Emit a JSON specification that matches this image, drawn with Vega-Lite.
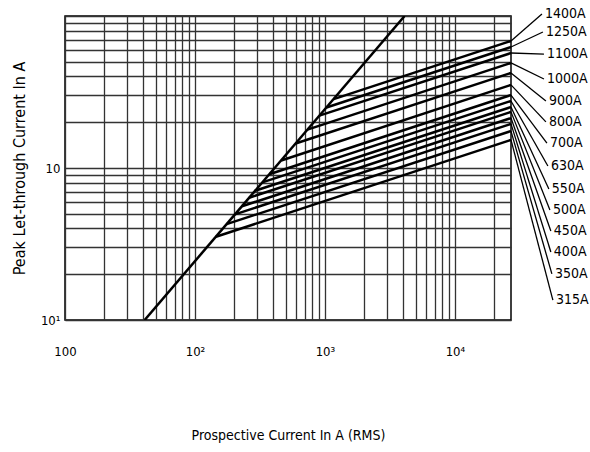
{
  "$schema": "https://vega.github.io/schema/vega-lite/v6.json",
  "autosize": "none",
  "width": 446,
  "height": 304,
  "padding": {"left": 65, "top": 16, "right": 79, "bottom": 132},
  "background": "white",
  "config": {
    "view": {"stroke": "#000", "strokeWidth": 1.5},
    "font": "DejaVu Sans Condensed, DejaVu Sans, sans-serif"
  },
  "datasets": {
    "diag": [
      {"x": 4.1, "y": 1},
      {"x": 410, "y": 100}
    ],
    "curves": [
      {"fuse": "1400A", "x": 116.6, "y": 28.4}, {"fuse": "1400A", "x": 2700, "y": 68.5},
      {"fuse": "1250A", "x": 102.6, "y": 25.0}, {"fuse": "1250A", "x": 2700, "y": 62.5},
      {"fuse": "1100A", "x": 90.6, "y": 22.1}, {"fuse": "1100A", "x": 2700, "y": 57.1},
      {"fuse": "1000A", "x": 73.3, "y": 17.9}, {"fuse": "1000A", "x": 2700, "y": 49.1},
      {"fuse": "900A", "x": 59.4, "y": 14.5}, {"fuse": "900A", "x": 2700, "y": 42.2},
      {"fuse": "800A", "x": 46.1, "y": 11.2}, {"fuse": "800A", "x": 2700, "y": 35.2},
      {"fuse": "700A", "x": 37.3, "y": 9.1}, {"fuse": "700A", "x": 2700, "y": 30.2},
      {"fuse": "630A", "x": 33.0, "y": 8.05}, {"fuse": "630A", "x": 2700, "y": 27.6},
      {"fuse": "550A", "x": 29.0, "y": 7.08}, {"fuse": "550A", "x": 2700, "y": 25.2},
      {"fuse": "500A", "x": 26.1, "y": 6.37}, {"fuse": "500A", "x": 2700, "y": 23.4},
      {"fuse": "450A", "x": 23.0, "y": 5.6}, {"fuse": "450A", "x": 2700, "y": 21.3},
      {"fuse": "400A", "x": 20.3, "y": 4.95}, {"fuse": "400A", "x": 2700, "y": 19.5},
      {"fuse": "350A", "x": 17.5, "y": 4.27}, {"fuse": "350A", "x": 2700, "y": 17.5},
      {"fuse": "315A", "x": 14.5, "y": 3.53}, {"fuse": "315A", "x": 2700, "y": 15.3}
    ],
    "labels": [
      {"fuse": "1400A", "x": 2700, "y": 68.5, "lx": 4670, "ly": 103.1},
      {"fuse": "1250A", "x": 2700, "y": 62.5, "lx": 4750, "ly": 78.5},
      {"fuse": "1100A", "x": 2700, "y": 57.1, "lx": 4840, "ly": 56.2},
      {"fuse": "1000A", "x": 2700, "y": 49.1, "lx": 4840, "ly": 38.5},
      {"fuse": "900A", "x": 2700, "y": 42.2, "lx": 5010, "ly": 27.6},
      {"fuse": "800A", "x": 2700, "y": 35.2, "lx": 5010, "ly": 20.1},
      {"fuse": "700A", "x": 2700, "y": 30.2, "lx": 5100, "ly": 14.6},
      {"fuse": "630A", "x": 2700, "y": 27.6, "lx": 5190, "ly": 10.3},
      {"fuse": "550A", "x": 2700, "y": 25.2, "lx": 5280, "ly": 7.27},
      {"fuse": "500A", "x": 2700, "y": 23.4, "lx": 5380, "ly": 5.29},
      {"fuse": "450A", "x": 2700, "y": 21.3, "lx": 5470, "ly": 3.85},
      {"fuse": "400A", "x": 2700, "y": 19.5, "lx": 5470, "ly": 2.80},
      {"fuse": "350A", "x": 2700, "y": 17.5, "lx": 5570, "ly": 2.01},
      {"fuse": "315A", "x": 2700, "y": 15.3, "lx": 5670, "ly": 1.35}
    ]
  },
  "layer": [
    {
      "data": {"name": "diag"},
      "mark": {"type": "line", "color": "#000", "strokeWidth": 2.5, "clip": true},
      "encoding": {
        "x": {
          "field": "x", "type": "quantitative",
          "scale": {"type": "log", "domain": [1, 2700], "nice": false},
          "axis": {
            "values": [1,2,3,4,5,6,7,8,9,10,20,30,40,50,60,70,80,90,100,200,300,400,500,600,700,800,900,1000,2000],
            "labelExpr": "datum.value == 1 ? '100' : datum.value == 10 ? '10²' : datum.value == 100 ? '10³' : datum.value == 1000 ? '10⁴' : ''",
            "grid": true, "gridColor": "#333", "gridWidth": 1.3, "gridOpacity": 1,
            "ticks": false, "domain": false,
            "labelOverlap": false, "labelFlush": false, "labelBound": false,
            "labelPadding": 25, "labelFontSize": 13, "labelColor": "#000",
            "title": "Prospective Current In A (RMS)",
            "titleFontSize": 14, "titleFontWeight": "normal", "titleColor": "#000",
            "titlePadding": 70
          }
        },
        "y": {
          "field": "y", "type": "quantitative",
          "scale": {"type": "log", "domain": [1, 100], "nice": false},
          "axis": {
            "values": [1,2,3,4,5,6,7,8,9,10,20,30,40,50,60,70,80,90,100],
            "labelExpr": "datum.value == 1 ? '10¹' : datum.value == 10 ? '10' : ''",
            "grid": true, "gridColor": "#333", "gridWidth": 1.3, "gridOpacity": 1,
            "ticks": false, "domain": false,
            "labelOverlap": false, "labelFlush": false, "labelBound": false,
            "labelPadding": 5, "labelFontSize": 13, "labelColor": "#000",
            "title": "Peak Let-through Current In A",
            "titleFontSize": 16, "titleFontWeight": "normal", "titleColor": "#000",
            "titlePadding": 13
          }
        }
      }
    },
    {
      "data": {"name": "curves"},
      "mark": {"type": "line", "color": "#000", "strokeWidth": 2.5},
      "encoding": {
        "x": {"field": "x", "type": "quantitative"},
        "y": {"field": "y", "type": "quantitative"},
        "detail": {"field": "fuse"}
      }
    },
    {
      "data": {"name": "labels"},
      "mark": {"type": "rule", "color": "#000", "strokeWidth": 1.3, "clip": false},
      "encoding": {
        "x": {"field": "x", "type": "quantitative"},
        "y": {"field": "y", "type": "quantitative"},
        "x2": {"field": "lx"},
        "y2": {"field": "ly"}
      }
    },
    {
      "data": {"name": "labels"},
      "mark": {"type": "text", "align": "left", "baseline": "middle", "dx": 3, "fontSize": 14, "color": "#000", "clip": false},
      "encoding": {
        "x": {"field": "lx", "type": "quantitative"},
        "y": {"field": "ly", "type": "quantitative"},
        "text": {"field": "fuse"}
      }
    }
  ]
}
